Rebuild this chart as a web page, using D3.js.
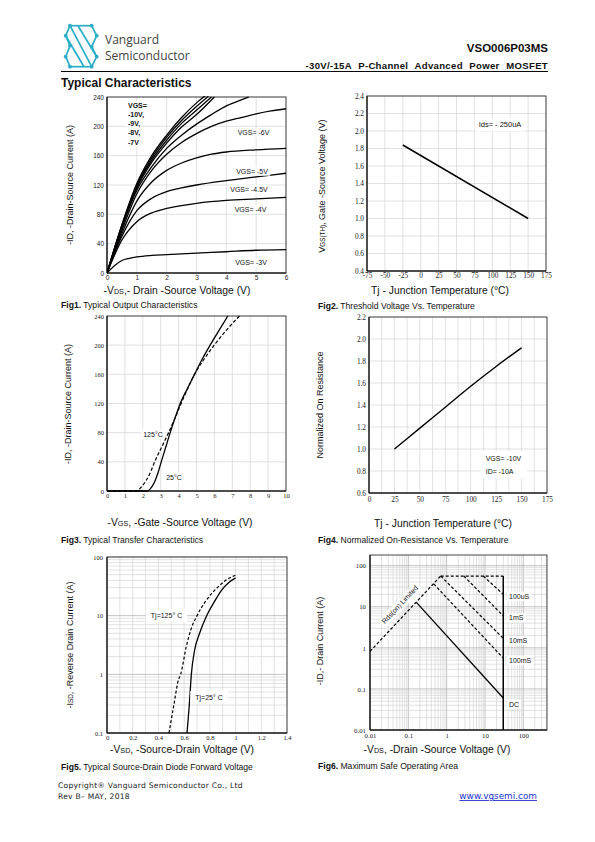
<!DOCTYPE html>
<html><head><meta charset="utf-8">
<script src="https://cdn.jsdelivr.net/npm/d3@7"></script>
<style>body{margin:0;background:#fff} svg{display:block}</style>
</head><body>
<svg id="page" width="595" height="842"></svg>
<script>
// ================= DATA =================
// Fig1 - Output characteristics (VDS, ID)
const fig1XTicks = [0,1,2,3,4,5,6];
const fig1YTicks = [0,40,80,120,160,200,240];
const fig1Vgs10 = [[0,0],[0.5,66],[1,122],[1.5,160],[2,188],[2.5,212],[3,232],[3.3,242]];
const fig1Vgs9  = [[0,0],[0.5,65],[1,120],[1.5,157],[2,185],[2.5,208],[3,227],[3.4,241]];
const fig1Vgs8  = [[0,0],[0.5,64],[1,118],[1.5,154],[2,181],[2.5,204],[3,222],[3.5,240]];
const fig1Vgs7a = [[0,0],[0.5,63],[1,116],[1.5,151],[2,177],[2.5,199],[3,216],[3.6,240]];
const fig1Vgs7b = [[0,0],[0.5,62],[1,113],[1.5,145],[2,170],[2.5,188],[3,203],[3.5,216],[4,228],[4.5,236],[4.75,240]];
const fig1Vgs6  = [[0,0],[0.5,58],[1,108],[1.5,140],[2,162],[2.5,178],[3,190],[3.5,200],[4,207],[4.5,212],[5,217],[5.5,221],[6,224]];
const fig1Vgs5  = [[0,0],[0.5,54],[1,98],[1.5,124],[2,140],[2.5,150],[3,157],[3.5,162],[4,165],[5,168],[6,170]];
const fig1Vgs45 = [[0,0],[0.5,50],[1,85],[1.5,102],[2,111],[2.5,116],[3,120],[4,126],[5,131],[6,136]];
const fig1Vgs4  = [[0,0],[0.5,45],[1,70],[1.5,82],[2,88],[2.5,92],[3,95],[4,99],[5,101],[6,103]];
const fig1Vgs3  = [[0,0],[0.25,10],[0.5,17],[0.75,20],[1,22],[1.5,24],[2,25],[3,27],[4,29],[5,31],[6,32]];
const fig1Labels = ["VGS= -6V","VGS= -5V","VGS= -4.5V","VGS= -4V","VGS= -3V"];
const fig1Legend = ["VGS=","-10V,","-9V,","-8V,","-7V"];

// Fig2 - Threshold voltage vs temperature
const fig2XTicks = [-75,-50,-25,0,25,50,75,100,125,150,175];
const fig2YTicks = [0.4,0.6,0.8,1.0,1.2,1.4,1.6,1.8,2.0,2.2,2.4];
const fig2Temp = [-25,150];
const fig2Vth  = [1.84,1.0];

// Fig3 - Transfer characteristics (VGS, ID)
const fig3XTicks = [0,1,2,3,4,5,6,7,8,9,10];
const fig3YTicks = [0,40,80,120,160,200,240];
const fig3T25  = [[0,0],[2.27,0],[2.45,4],[2.65,12],[2.85,25],[3.03,40],[3.28,60],[3.53,80],[3.8,100],[4.09,120],[4.48,140],[4.89,160],[5.3,180],[5.76,200],[6.25,220],[6.75,240]];
const fig3T125 = [[0,0],[1.67,0],[1.9,5],[2.2,15],[2.45,27],[2.66,40],[3.05,60],[3.44,80],[3.8,100],[4.14,120],[4.5,140],[4.89,160],[5.4,180],[5.99,200],[6.65,220],[7.4,240]];

// Fig4 - Normalized on-resistance vs temperature
const fig4XTicks = [0,25,50,75,100,125,150,175];
const fig4YTicks = [0.6,0.8,1.0,1.2,1.4,1.6,1.8,2.0,2.2];
const fig4Temp = [25,50,75,100,125,150];
const fig4Rn   = [1.0,1.19,1.38,1.57,1.75,1.92];

// Fig5 - Diode forward voltage (VSD, ISD)
const fig5XTicks = [0,0.2,0.4,0.6,0.8,1,1.2,1.4];
const fig5YTicks = [0.1,1,10,100];
const fig5T25  = [[0.622,0.1],[0.64,0.3],[0.656,1],[0.68,2.5],[0.72,5],[0.775,10],[0.84,18],[0.89,27],[0.95,37],[1.0,44]];
const fig5T125 = [[0.482,0.1],[0.52,0.3],[0.555,0.8],[0.573,1],[0.617,3],[0.655,6],[0.70,10],[0.77,18],[0.858,30],[0.93,41],[1.0,49]];

// Fig6 - Safe operating area (VDS, ID)
const fig6XTicks = [0.01,0.1,1,10,100];
const fig6YTicks = [0.01,0.1,1,10,100];
const fig6Rds   = [[0.01,0.82],[0.7,56]];
const fig6Limit = [[0.7,56],[30,56]];
const fig6Vmax  = [[30,0.01],[30,56]];
const fig6P100us = [[9,56],[30,20]];
const fig6P1ms   = [[2.8,56],[30,6]];
const fig6P10ms  = [[0.7,56],[30,1.7]];
const fig6P100ms = [[0.46,36],[30,0.56]];
const fig6DC     = [[0.16,13],[30,0.06]];
const fig6Labels = ["100uS","1mS","10mS","100mS","DC"];
const fig6LabelI = [20,6,1.7,0.56,0.06];

// ================= DRAWING =================
const SANS = "'Liberation Sans', Arial, sans-serif";
const SERIF = "'Liberation Serif', 'Times New Roman', serif";
const svg = d3.select('#page');
let clipN = 0;

function logGrid(lo, hi){
  const out=[];
  for(let e=Math.floor(Math.log10(lo)); e<=Math.ceil(Math.log10(hi)); e++){
    for(let k=1;k<10;k++){ const v=k*Math.pow(10,e); if(v>=lo*0.999 && v<=hi*1.001) out.push({v, major:k===1}); }
  }
  return out;
}

function panel(c){
  const g = svg.append('g');
  const x = (c.xlog?d3.scaleLog():d3.scaleLinear()).domain(c.xDomain).range([c.left,c.right]);
  const y = (c.ylog?d3.scaleLog():d3.scaleLinear()).domain(c.yDomain).range([c.bottom,c.top]);
  const grid = g.append('g');
  c.xGrid.forEach(d=>{
    grid.append('line').attr('x1',x(d.v)).attr('x2',x(d.v)).attr('y1',c.top).attr('y2',c.bottom)
      .attr('stroke',d.major?'#a8a8a8':'#d4d4d4').attr('stroke-width',0.7);
  });
  c.yGrid.forEach(d=>{
    grid.append('line').attr('y1',y(d.v)).attr('y2',y(d.v)).attr('x1',c.left).attr('x2',c.right)
      .attr('stroke',d.major?'#a8a8a8':'#d4d4d4').attr('stroke-width',0.7);
  });
  g.append('rect').attr('x',c.left).attr('y',c.top).attr('width',c.right-c.left).attr('height',c.bottom-c.top)
    .attr('fill','none').attr('stroke','#333').attr('stroke-width',0.9);
  g.append('line').attr('x1',c.left).attr('x2',c.left).attr('y1',c.top).attr('y2',c.bottom).attr('stroke','#000').attr('stroke-width',1);
  g.append('line').attr('x1',c.left).attr('x2',c.right).attr('y1',c.bottom).attr('y2',c.bottom).attr('stroke','#000').attr('stroke-width',1);
  const id='clip'+(clipN++);
  svg.append('clipPath').attr('id',id).append('rect').attr('x',c.left).attr('y',c.top-1).attr('width',c.right-c.left).attr('height',c.bottom-c.top+2);
  const plot = g.append('g').attr('clip-path',`url(#${id})`);
  const ax = g.append('g').attr('transform',`translate(0,${c.bottom})`)
    .call(d3.axisBottom(x).tickValues(c.xTicks).tickSize(0).tickPadding(c.xPad||3).tickFormat(c.xFmt||(d=>d)));
  const ay = g.append('g').attr('transform',`translate(${c.left},0)`)
    .call(d3.axisLeft(y).tickValues(c.yTicks).tickSize(0).tickPadding(c.yPad||3).tickFormat(c.yFmt||(d=>d)));
  [ax,ay].forEach(a=>{ a.select('.domain').remove();
    a.attr('font-family',c.tickFamily||SERIF).attr('font-size',c.tickSize||7);
    a.selectAll('text').attr('fill','#222'); });
  return {g,plot,x,y};
}

function drawLine(p, data, opts={}){
  const line = d3.line().x(d=>p.x(d[0])).y(d=>p.y(d[1])).curve(opts.curve||d3.curveMonotoneX);
  p.plot.append('path').datum(data).attr('d',line).attr('fill','none')
    .attr('stroke','#000').attr('stroke-width',opts.w||1.4)
    .attr('stroke-dasharray',opts.dash||null);
}

function label(parent, txt, x, y, opts={}){
  const t = parent.append('text').attr('x',x).attr('y',y).attr('text-anchor',opts.anchor||'middle')
    .attr('dominant-baseline','central').attr('font-family',opts.family||SANS)
    .attr('font-size',opts.size||7).attr('font-weight',opts.weight||'normal').attr('fill','#111').text(txt);
  if(opts.rotate) t.attr('transform',`rotate(${opts.rotate},${x},${y})`);
  if(opts.bg){
    const b=t.node().getBBox(); const pd=opts.pad||2;
    const r=parent.insert('rect',()=>t.node()).attr('x',b.x-pd).attr('y',b.y-pd/2).attr('width',b.width+2*pd).attr('height',b.height+pd).attr('fill','#fff');
    if(opts.rotate) r.attr('transform',`rotate(${opts.rotate},${x},${y})`);
  }
  return t;
}

function rich(parts, x, y, opts={}){
  const t = svg.append('text').attr('x',x).attr('y',y).attr('text-anchor',opts.anchor||'middle')
    .attr('font-family',opts.family||SANS).attr('font-size',opts.size||10).attr('fill','#111')
    .attr('font-weight',opts.weight||'normal');
  if(opts.rotate) t.attr('transform',`rotate(${opts.rotate},${x},${y})`);
  parts.forEach(p=>{
    if(typeof p==='string') t.append('tspan').text(p);
    else t.append('tspan').attr('font-size',(opts.size||10)*0.7).text(p.sub);
  });
  return t;
}

function caption(num, txt, x, y){
  const t = svg.append('text').attr('x',x).attr('y',y).attr('font-family',SANS).attr('font-size',8.6).attr('fill','#111');
  t.append('tspan').attr('font-weight','bold').text('Fig'+num+'.');
  t.append('tspan').text(' '+txt);
}

const lin = (a)=>a.map(v=>({v,major:false}));

// ---------- Header ----------
const logo = svg.append('g').attr('stroke','#2aaec8').attr('stroke-width',1.7).attr('fill','none').attr('stroke-linejoin','round');
const L = {a:[70,25.7],b:[91.7,25.7],c:[96.7,35.7],d:[65.7,35.7],e:[70,45.7],f:[91.7,46.7],g:[96.7,56.7],h:[65.7,56.7],i:[70,66.7],j:[91.7,66.7]};
const segs = [['b','a'],['a','d'],['d','e'],['b','c'],['a','j'],['c','f'],['f','g'],['g','j'],['j','i'],['i','h'],['h','e']];
segs.forEach(s=>logo.append('line').attr('x1',L[s[0]][0]).attr('y1',L[s[0]][1]).attr('x2',L[s[1]][0]).attr('y2',L[s[1]][1]));
logo.append('line').attr('x1',78).attr('y1',25.7).attr('x2',96.7).attr('y2',56.7);
logo.append('line').attr('x1',65.7).attr('y1',35.7).attr('x2',84).attr('y2',66.7);
Object.values(L).forEach(p=>svg.append('circle').attr('cx',p[0]).attr('cy',p[1]).attr('r',1.9).attr('fill','#2aaec8'));
svg.append('text').attr('x',105).attr('y',43.5).attr('font-family',"'Open Sans', 'Noto Sans', sans-serif").attr('font-size',12).attr('fill','#444').text('Vanguard');
svg.append('text').attr('x',105).attr('y',60).attr('font-family',"'Open Sans', 'Noto Sans', sans-serif").attr('font-size',12).attr('fill','#444').text('Semiconductor');
svg.append('text').attr('x',548).attr('y',52).attr('text-anchor','end').attr('font-family',SANS).attr('font-weight','bold').attr('font-size',11.5).attr('fill','#111').text('VSO006P03MS');
svg.append('text').attr('x',548).attr('y',68.5).attr('text-anchor','end').attr('font-family',SANS).attr('font-weight','bold').attr('font-size',9.6).attr('letter-spacing',0.3).attr('word-spacing',3.6).attr('fill','#111').text('-30V/-15A P-Channel Advanced Power MOSFET');
svg.append('line').attr('x1',61).attr('x2',548).attr('y1',71.5).attr('y2',71.5).attr('stroke','#000').attr('stroke-width',1.2);
svg.append('text').attr('x',61).attr('y',86.5).attr('font-family',SANS).attr('font-weight','bold').attr('font-size',12).attr('fill','#111').text('Typical Characteristics');

// ---------- Fig1 ----------
const p1 = panel({left:107,right:286,top:97,bottom:273,xDomain:[0,6],yDomain:[0,240],
  xGrid:lin(fig1XTicks),yGrid:lin(fig1YTicks),xTicks:fig1XTicks,yTicks:fig1YTicks,tickFamily:SANS,tickSize:6.5,xPad:2,yPad:3});
[fig1Vgs10,fig1Vgs9,fig1Vgs8,fig1Vgs7a,fig1Vgs7b,fig1Vgs6,fig1Vgs5,fig1Vgs45,fig1Vgs4,fig1Vgs3].forEach(d=>drawLine(p1,d,{w:1.3}));
const f1lab = p1.g.append('g');
const f1pos = [[253.5,132.7],[252,171.2],[249,189],[250.5,209],[251,262.7]];
fig1Labels.forEach((t,i)=>label(f1lab,t,f1pos[i][0],f1pos[i][1],{bg:true,size:7}));
fig1Legend.forEach((t,i)=>label(f1lab,t,128,105+i*9.3,{anchor:'start',weight:'bold',size:7,bg:true,pad:1}));
rich(['-ID, -Drain-Source Current (A)'],73,185,{rotate:-90,size:9});
rich(['-V',{sub:'DS'},',- Drain -Source Voltage (V)'],177,293.5,{size:10.3});
caption(1,'Typical Output Characteristics',61,307.5);

// ---------- Fig2 ----------
const p2 = panel({left:367,right:546,top:96,bottom:271,xDomain:[-75,175],yDomain:[0.4,2.4],
  xGrid:lin(fig2XTicks),yGrid:lin(fig2YTicks),xTicks:fig2XTicks,yTicks:fig2YTicks,tickSize:7.3,xPad:1.5,yPad:3,
  yFmt:d3.format('.1f')});
drawLine(p2, fig2Temp.map((t,i)=>[t,fig2Vth[i]]), {w:1.5,curve:d3.curveLinear});
label(p2.g,'Ids= - 250uA',500,124.7,{bg:true,size:7.5,pad:4});
rich(['V',{sub:'GS(TH)'},', Gate -Source Voltage (V)'],325,186,{rotate:-90,size:9});
rich(['Tj - Junction Temperature (°C)'],440,293.5,{size:10.3});
caption(2,'Threshold Voltage Vs. Temperature',318,308.5);

// ---------- Fig3 ----------
const p3 = panel({left:107,right:286,top:316,bottom:491,xDomain:[0,10],yDomain:[0,240],
  xGrid:lin(fig3XTicks),yGrid:lin(fig3YTicks),xTicks:fig3XTicks,yTicks:fig3YTicks,tickSize:6.5,xPad:2.5,yPad:3});
drawLine(p3, fig3T125, {w:1.2,dash:'3.5,2'});
drawLine(p3, fig3T25, {w:1.3});
label(p3.g,'125°C',153,434,{bg:true,size:7});
label(p3.g,'25°C',174,477,{bg:true,size:7});
rich(['-ID, -Drain-Source Current (A)'],71,404,{rotate:-90,size:9});
rich(['-V',{sub:'GS'},', -Gate -Source Voltage (V)'],180,525.5,{size:10.3});
caption(3,'Typical Transfer Characteristics',61,543);

// ---------- Fig4 ----------
const p4x = d3.range(0,175.1,12.5);
const p4 = panel({left:369,right:547,top:317,bottom:493,xDomain:[0,175],yDomain:[0.6,2.2],
  xGrid:lin(p4x),yGrid:lin(fig4YTicks),xTicks:fig4XTicks,yTicks:fig4YTicks,tickSize:7.3,xPad:4,yPad:3,
  yFmt:d3.format('.1f')});
drawLine(p4, fig4Temp.map((t,i)=>[t,fig4Rn[i]]), {w:1.4});
p4.g.append('rect').attr('x',481).attr('y',451).attr('width',46).attr('height',27).attr('fill','#fff');
label(p4.g,'VGS= -10V',485.7,458.7,{anchor:'start',size:7});
label(p4.g,'ID= -10A',485.7,471.3,{anchor:'start',size:7});
rich(['Normalized On Resistance'],323,405,{rotate:-90,size:9});
rich(['Tj - Junction Temperature (°C)'],443,526.5,{size:10.3});
caption(4,'Normalized On-Resistance Vs. Temperature',318,543);

// ---------- Fig5 ----------
const p5x = d3.range(0,1.401,0.1);
const p5 = panel({left:107,right:287,top:557,bottom:733,xDomain:[0,1.4],yDomain:[0.1,100],ylog:true,
  xGrid:lin(p5x),yGrid:logGrid(0.1,100),xTicks:fig5XTicks,yTicks:fig5YTicks,tickSize:6.5,xPad:2.5,yPad:4,
  xFmt:d=>Number.isInteger(d)?String(d):d.toFixed(1), yFmt:d=>String(d)});
drawLine(p5, fig5T125, {w:1.2,dash:'3,2'});
drawLine(p5, fig5T25, {w:1.3});
label(p5.g,'Tj=125° C',166.5,615,{bg:true,size:7,pad:5});
label(p5.g,'Tj=25° C',209,697,{bg:true,size:7,pad:5});
rich(['-I',{sub:'SD'},', -Reverse Drain Current (A)'],73,645,{rotate:-90,size:9});
rich(['-V',{sub:'SD'},', -Source-Drain Voltage (V)'],182,752.5,{size:10.3});
caption(5,'Typical Source-Drain Diode Forward Voltage',61,770);

// ---------- Fig6 ----------
const p6 = panel({left:370,right:547,top:555,bottom:730,xDomain:[0.01,415],yDomain:[0.01,182],xlog:true,ylog:true,
  xGrid:logGrid(0.01,415),yGrid:logGrid(0.01,182),xTicks:fig6XTicks,yTicks:fig6YTicks,tickSize:6.8,xPad:3,yPad:4,
  xFmt:d=>String(d), yFmt:d=>String(d)});
drawLine(p6, fig6Rds, {w:1.2,dash:'3,2',curve:d3.curveLinear});
drawLine(p6, fig6Limit, {w:1.2,dash:'3,2',curve:d3.curveLinear});
[fig6P100us,fig6P1ms,fig6P10ms,fig6P100ms].forEach(d=>drawLine(p6,d,{w:1.2,dash:'3,2',curve:d3.curveLinear}));
drawLine(p6, fig6DC, {w:1.3,curve:d3.curveLinear});
drawLine(p6, fig6Vmax, {w:1.5,curve:d3.curveLinear});
const f6yOff = [0,0,0,0,4];
fig6Labels.forEach((t,i)=>label(p6.g,t,509,p6.y(fig6LabelI[i])+f6yOff[i]+2,{anchor:'start',bg:true,size:7,pad:2}));
label(p6.g,'Rds(on) Limited',p6.x(0.06),p6.y(0.06*82*2.3),{rotate:-47,bg:true,size:7,pad:2});
rich(['-ID,- Drain Current (A)'],323,641,{rotate:-90,size:9});
rich(['-V',{sub:'DS'},', -Drain -Source Voltage (V)'],437,753,{size:10.3});
caption(6,'Maximum Safe Operating Area',318,769);

// ---------- Footer ----------
const FOOT = "'DejaVu Sans', sans-serif";
svg.append('text').attr('x',58).attr('y',787.5).attr('font-family',FOOT).attr('font-size',7.6).attr('letter-spacing',0.25).attr('fill','#222').text('Copyright® Vanguard Semiconductor Co., Ltd');
svg.append('text').attr('x',58).attr('y',798.5).attr('font-family',FOOT).attr('font-size',7.6).attr('letter-spacing',0.25).attr('fill','#222').text('Rev B– MAY, 2018');
svg.append('text').attr('x',537).attr('y',799).attr('text-anchor','end').attr('font-family',FOOT).attr('font-size',8.9).attr('fill','#2330d0').attr('text-decoration','underline').text('www.vgsemi.com');
</script>
</body></html>
